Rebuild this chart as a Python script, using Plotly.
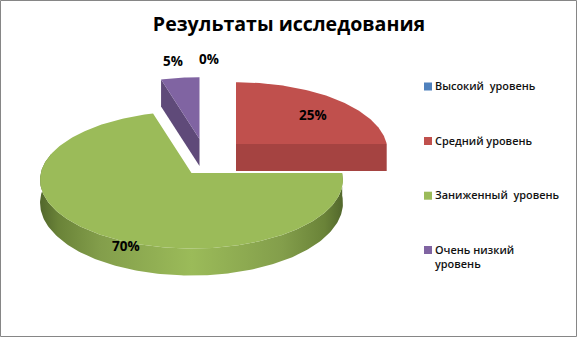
import math
import plotly.graph_objects as go

title = "Результаты исследования"
categories = ["Высокий  уровень", "Средний уровень", "Заниженный  уровень", "Очень низкий<br>уровень"]
values = [0, 25, 70, 5]

top_colors = ["#4f81bd", "#c0504d", "#9bbb59", "#8064a2"]
side_colors = ["#3f6797", "#a54341", None, "#5f4a79"]
green_wall = [[0, "#52672c"], [0.06, "#6a8338"], [0.2, "#839e4b"], [0.5, "#9bbb59"],
              [0.8, "#839e4b"], [0.94, "#6a8338"], [1, "#52672c"]]

# Pixel-based scene set-up (projective view of a tilted disc)
W, H = 578, 338
RX, RY, PERSP, DEPTH, WARP = 150.7, 68.0, 0.10, 27, 3.0
pivots = [(236, 144), (236, 144), (191.5, 173), (199.5, 139)]
label_pos = [(209, 59), (313, 115), (126, 246), (173, 61)]
legend_x, legend_text_x = 428, 435
legend_y = [86.5, 141, 195.7, 250]


def project(cx, cy, a):
    """a: degrees clockwise from 12 o'clock on the disc."""
    a = a - WARP * math.sin(math.radians(2 * a))
    u, v = math.sin(math.radians(a)), math.cos(math.radians(a))
    s = 1 + PERSP * v
    return cx + RX * u / s, cy - RY * v / s


def arc(cx, cy, a0, a1):
    n = max(2, int(abs(a1 - a0)) + 1)
    pts = [project(cx, cy, a0 + (a1 - a0) * i / (n - 1)) for i in range(n)]
    return [p[0] for p in pts], [p[1] for p in pts]


fig = go.Figure()


def poly(xs, ys, color=None, gradient=None):
    kw = dict(fillgradient=gradient) if gradient else dict(fillcolor=color)
    fig.add_trace(go.Scatter(x=xs + xs[:1], y=ys + ys[:1], mode="lines", fill="toself",
                             line=dict(width=0, color="rgba(0,0,0,0)"), hoverinfo="skip",
                             showlegend=False, **kw))


start = 0.0
total = sum(values)
angles = []
for v in values:
    angles.append((start, start + v / total * 360))
    start += v / total * 360

# Purple slice (index 3): visible cut wall on its left side
a0, a1 = angles[3]
cx, cy = pivots[3]
rx, ry = project(cx, cy, a0)
poly([cx, rx, rx, cx], [cy, ry, ry + DEPTH, cy + DEPTH], side_colors[3])
xs, ys = arc(cx, cy, a0, a1)
poly([cx] + xs, [cy] + ys, top_colors[3])

# Red slice (index 1): visible flat front wall
a0, a1 = angles[1]
cx, cy = pivots[1]
rx, ry = project(cx, cy, a1)
poly([cx, rx, rx, cx], [cy, ry, ry + DEPTH, cy + DEPTH], side_colors[1])
xs, ys = arc(cx, cy, a0, a1)
poly([cx] + xs, [cy] + ys, top_colors[1])

# Green slice (index 2): curved wall, deeper toward the viewer
a0, a1 = angles[2]
cx, cy = pivots[2]
xs, ys = arc(cx, cy, a0, 285)
yb = [y + DEPTH * (0.84 + 0.16 * max(0.0, (y - cy) / 76)) for y in ys]
poly(xs + xs[::-1], ys + yb[::-1],
     gradient=dict(type="horizontal", colorscale=green_wall))
xs, ys = arc(cx, cy, a0, a1)
poly([cx] + xs, [cy] + ys, top_colors[2])

# Legend-like key
fig.add_trace(go.Scatter(x=[legend_x] * len(categories), y=legend_y, mode="markers",
                         marker=dict(symbol="square", size=8, color=top_colors, line=dict(width=0)),
                         hoverinfo="skip", showlegend=False))

font = "Open Sans"
annotations = []
for (lx, ly), v in zip(label_pos, values):
    annotations.append(dict(x=lx, y=ly, text=f"<b>{v}%</b>", showarrow=False,
                            font=dict(family=font, size=13.5, color="#000000"),
                            xanchor="center", yanchor="middle"))
for name, ly in zip(categories, legend_y):
    annotations.append(dict(x=legend_text_x, y=ly - 9.5, text=name.replace("  ", "\u00a0\u00a0"),
                            showarrow=False, xanchor="left", yanchor="top", align="left",
                            borderpad=0, xshift=-1,
                            font=dict(family=font, size=10.9, color="#111111", weight=600)))

fig.update_layout(
    width=W, height=H, margin=dict(l=0, r=0, t=0, b=0),
    paper_bgcolor="white", plot_bgcolor="white", showlegend=False,
    title=dict(text=f"<b>{title}</b>", x=0.5, xref="paper", xanchor="center",
               y=1 - 24 / H, yref="paper", yanchor="middle",
               font=dict(family=font, size=19.6, color="#000000")),
    xaxis=dict(range=[0, W], visible=False, fixedrange=True),
    yaxis=dict(range=[H, 0], visible=False, fixedrange=True),
    annotations=annotations,
    shapes=[dict(type="rect", x0=0.5, y0=0.5, x1=576.5, y1=336.5,
                 line=dict(color="#868686", width=1), fillcolor="rgba(0,0,0,0)")],
)
fig.write_html("out.html", config=dict(displayModeBar=False),
               post_script="document.body.style.margin='0';document.documentElement.style.overflow='hidden';")
